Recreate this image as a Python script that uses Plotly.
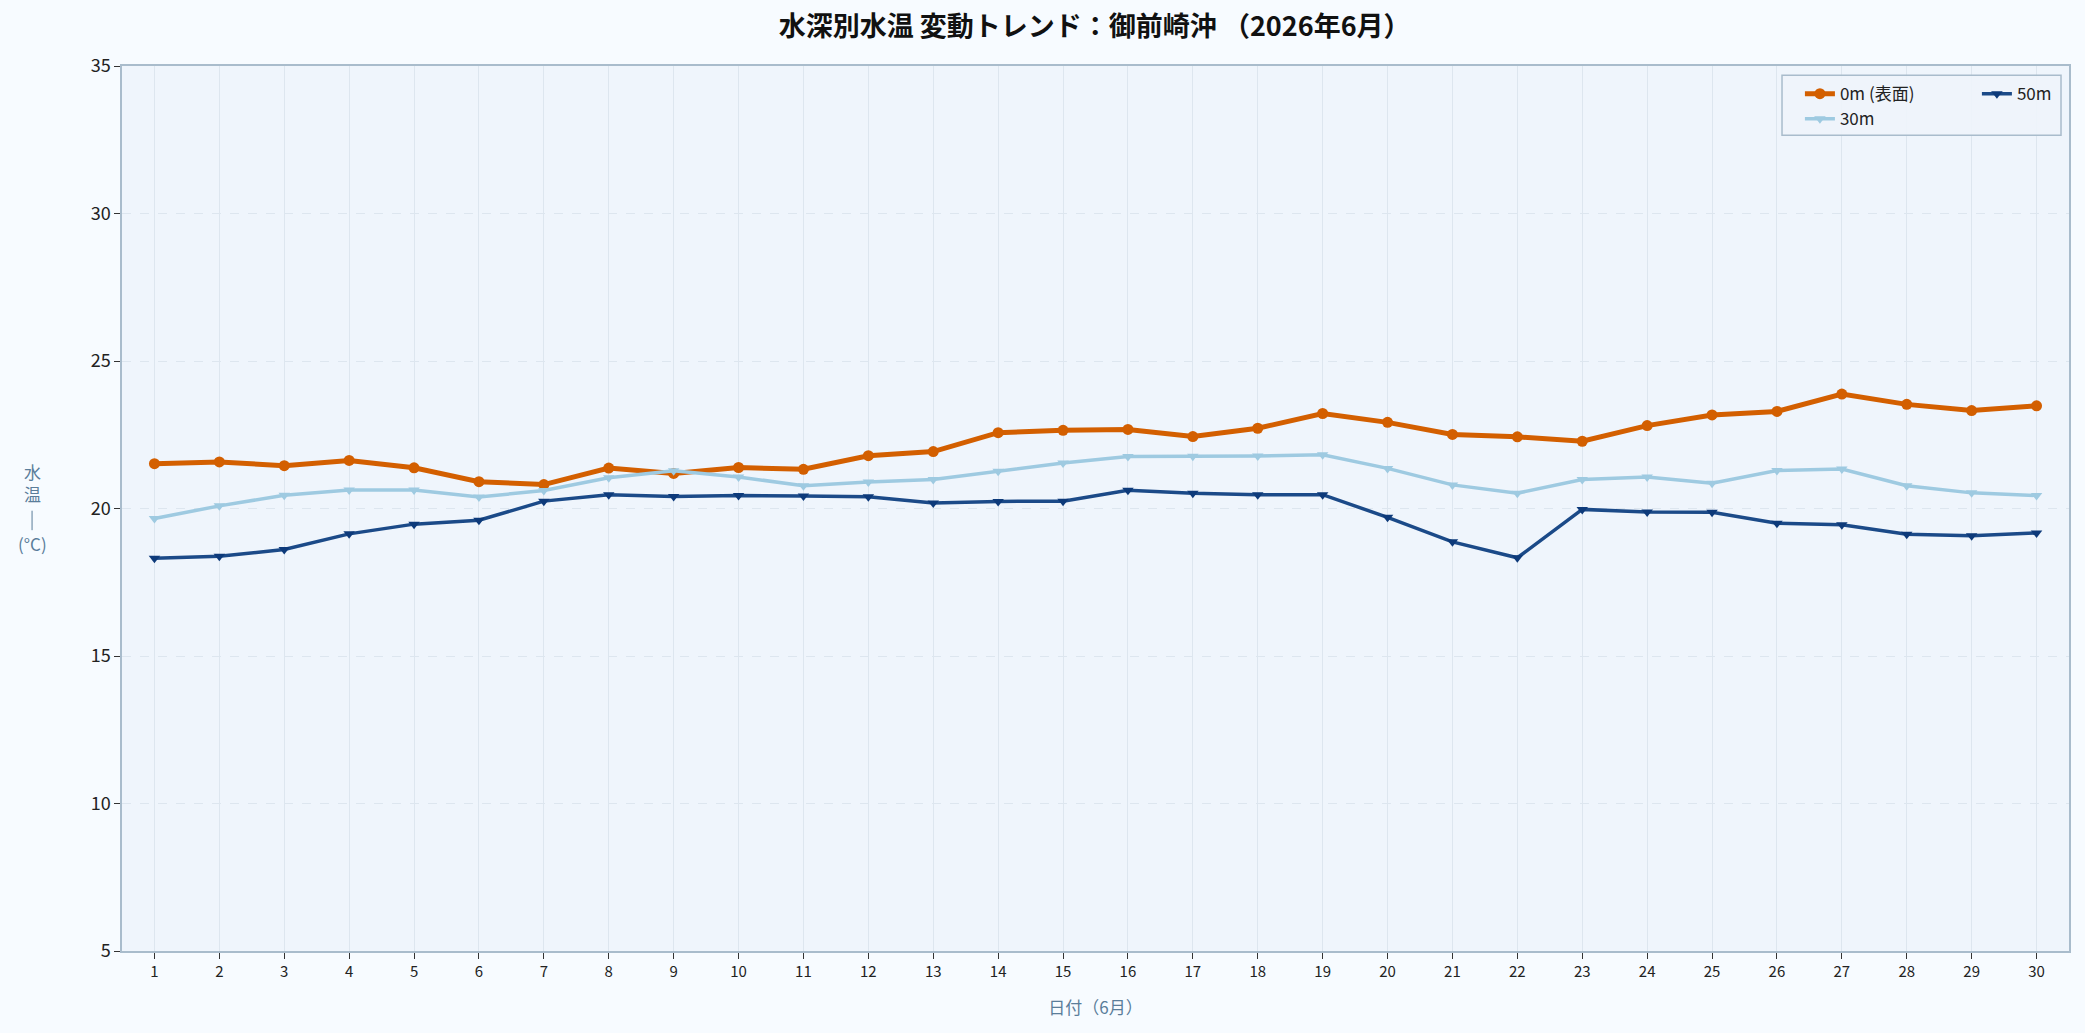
import plotly.graph_objects as go

days = list(range(1, 31))
temp_0m = [21.52, 21.58, 21.45, 21.63, 21.38, 20.91, 20.81, 21.37, 21.19, 21.39,
           21.33, 21.79, 21.93, 22.57, 22.65, 22.68, 22.44, 22.72, 23.22, 22.92,
           22.51, 22.43, 22.28, 22.81, 23.17, 23.29, 23.88, 23.53, 23.32, 23.48]
temp_30m = [19.66, 20.09, 20.45, 20.63, 20.63, 20.39, 20.61, 21.04, 21.28, 21.07,
            20.77, 20.90, 20.98, 21.26, 21.54, 21.76, 21.77, 21.78, 21.82, 21.36,
            20.80, 20.52, 20.98, 21.07, 20.86, 21.29, 21.34, 20.77, 20.53, 20.44]
temp_50m = [18.31, 18.38, 18.61, 19.14, 19.47, 19.60, 20.25, 20.47, 20.41, 20.44,
            20.42, 20.40, 20.19, 20.24, 20.25, 20.62, 20.52, 20.47, 20.47, 19.70,
            18.87, 18.33, 19.97, 19.88, 19.87, 19.50, 19.45, 19.13, 19.08, 19.17]
y_ticks = [5, 10, 15, 20, 25, 30, 35]

FONT = "Noto Sans CJK JP"
LABEL_COLOR = "#5a7d9a"
fig = go.Figure()

fig.add_trace(go.Scatter(
    x=days, y=temp_0m, name="0m (表面)", mode="lines+markers",
    line=dict(color="#d35f00", width=5),
    marker=dict(symbol="circle", size=11, color="#d35f00"),
    legend="legend", legendgroup="a", legendrank=1))
fig.add_trace(go.Scatter(
    x=days, y=temp_30m, name="30m", mode="lines+markers",
    line=dict(color="#9ecae1", width=3.5),
    marker=dict(symbol="triangle-down", size=10, color="#9ecae1"),
    legend="legend", legendgroup="b", legendrank=2))
fig.add_trace(go.Scatter(
    x=days, y=temp_50m, name="50m", mode="lines+markers",
    line=dict(color="#1b4a88", width=3.5),
    marker=dict(symbol="triangle-down", size=10, color="#0d3a7a"),
    legend="legend2", legendgroup="c", legendrank=3))

# legend frame
fig.add_shape(type="rect", xref="paper", yref="paper",
              x0=0.8526, x1=0.9959, y0=0.9218, y1=0.9896,
              line=dict(color="#a9bccc", width=1.5),
              fillcolor="rgba(238,244,251,0.9)", layer="above")

# vertical y-axis label: 水 / 温 / │ / (°C)
fig.add_annotation(
    x=-0.0462, y=0.529, xref="paper", yref="paper", xanchor="center",
    text="水<br>温", showarrow=False,
    font=dict(family=FONT, size=17, color=LABEL_COLOR), align="center")
fig.add_shape(type="line", xref="paper", yref="paper",
              x0=-0.0462, x1=-0.0462, y0=0.4755, y1=0.4975,
              line=dict(color=LABEL_COLOR, width=1))
fig.add_annotation(
    x=-0.0462, y=0.460, xref="paper", yref="paper", xanchor="center",
    text="(°C)", showarrow=False,
    font=dict(family=FONT, size=17, color=LABEL_COLOR), align="center")

fig.update_layout(
    width=2085, height=1033,
    paper_bgcolor="#f7fbff", plot_bgcolor="#eff5fc",
    margin=dict(l=122, r=16, t=66, b=82),
    font=dict(family=FONT, color="#222222"),
    title=dict(text="<b>水深別水温 変動トレンド：御前崎沖 （2026年6月）</b>",
               x=0.525, xanchor="center", y=0.974, yanchor="middle",
               font=dict(family=FONT, size=27, color="#111111")),
    xaxis=dict(range=[0.5, 30.5], tickmode="array", tickvals=days,
               ticktext=[str(d) for d in days],
               showgrid=True, gridcolor="#dde6ef", gridwidth=1,
               ticks="outside", ticklen=6, tickcolor="#333333",
               tickfont=dict(size=15, family=FONT, color="#222222"),
               showline=True, linecolor="#a9bccc", linewidth=1.5, mirror=True,
               zeroline=False,
               title=dict(text="日付（6月）", standoff=22,
                          font=dict(size=17, family=FONT, color=LABEL_COLOR))),
    yaxis=dict(range=[5, 35], tickmode="array", tickvals=y_ticks,
               showgrid=True, gridcolor="#dde6ef", griddash="dash", gridwidth=1,
               ticks="outside", ticklen=6, tickcolor="#333333",
               tickfont=dict(size=18, family=FONT, color="#222222"),
               showline=True, linecolor="#a9bccc", linewidth=1.5, mirror=True,
               zeroline=False),
    legend=dict(x=0.8618, y=0.9885, xanchor="left", yanchor="top",
                bgcolor="rgba(0,0,0,0)", borderwidth=0, orientation="v",
                traceorder="grouped", tracegroupgap=0,
                font=dict(size=17, family=FONT, color="#222222")),
    legend2=dict(x=0.9527, y=0.9885, xanchor="left", yanchor="top",
                 bgcolor="rgba(0,0,0,0)", borderwidth=0, orientation="v",
                 font=dict(size=17, family=FONT, color="#222222")),
    showlegend=True,
)

fig.write_html("out.html")
